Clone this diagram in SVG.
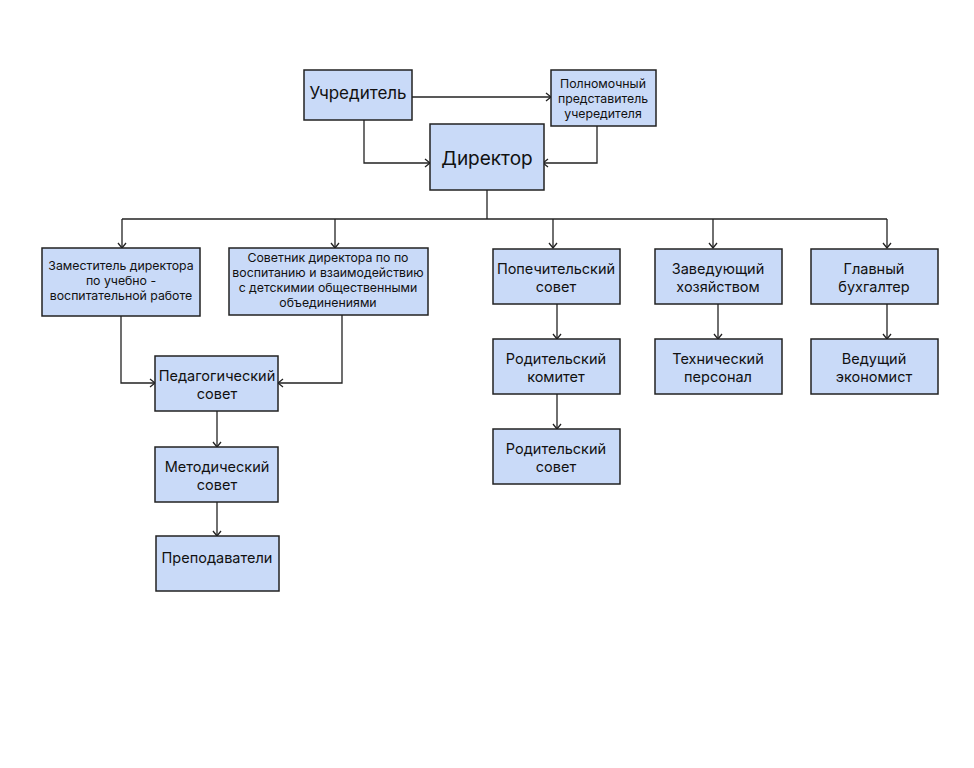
<svg xmlns="http://www.w3.org/2000/svg" width="974" height="768" viewBox="0 0 974 768">
<defs>
<marker id="ah" markerWidth="10" markerHeight="10" refX="9" refY="5" orient="auto" markerUnits="userSpaceOnUse">
<path d="M4,1 L9,5 L4,9" fill="none" stroke="#222" stroke-width="1.3"/>
</marker>
<style>
.b{fill:#c9daf8;stroke:#222;stroke-width:1.5}
.t{font-family:Inter,"Noto Sans",sans-serif;fill:#111;text-anchor:middle}
.s12{font-size:12.3px}
.s14{font-size:14.5px}
.c{fill:none;stroke:#222;stroke-width:1.3}
</style>
</defs>
<rect width="974" height="768" fill="#fff"/>
<g id="connectors">
<path class="c" d="M412,97 H551" marker-end="url(#ah)"/>
<path class="c" d="M364,120 V163 H430" marker-end="url(#ah)"/>
<path class="c" d="M597,126 V163 H543" marker-end="url(#ah)"/>
<path class="c" d="M487,190 V219"/>
<path class="c" d="M122,219 H887"/>
<path class="c" d="M122,219 V248" marker-end="url(#ah)"/>
<path class="c" d="M335,219 V248" marker-end="url(#ah)"/>
<path class="c" d="M553,219 V248" marker-end="url(#ah)"/>
<path class="c" d="M713,219 V248" marker-end="url(#ah)"/>
<path class="c" d="M887,219 V248" marker-end="url(#ah)"/>
<path class="c" d="M121,316 V383 H155" marker-end="url(#ah)"/>
<path class="c" d="M342,315 V383 H278" marker-end="url(#ah)"/>
<path class="c" d="M217,411 V447" marker-end="url(#ah)"/>
<path class="c" d="M217,502 V536" marker-end="url(#ah)"/>
<path class="c" d="M557,304 V339" marker-end="url(#ah)"/>
<path class="c" d="M557,394 V429" marker-end="url(#ah)"/>
<path class="c" d="M718,304 V339" marker-end="url(#ah)"/>
<path class="c" d="M887,304 V339" marker-end="url(#ah)"/>
</g>
<g id="uchreditel">
<rect class="b" x="304" y="70" width="108" height="50"/>
<text class="t" x="358" y="99" font-size="17">Учредитель</text>
</g>
<g id="polnomochny">
<rect class="b" x="551" y="70" width="105" height="56"/>
<text class="t s12" x="603" y="88">Полномочный</text>
<text class="t s12" x="603" y="103">представитель</text>
<text class="t s12" x="603" y="118">учередителя</text>
</g>
<g id="direktor">
<rect class="b" x="430" y="124" width="114" height="66"/>
<text class="t" x="487" y="165" font-size="19">Директор</text>
</g>
<g id="zamestitel">
<rect class="b" x="42" y="248" width="158" height="68"/>
<text class="t s12" x="121" y="270">Заместитель директора</text>
<text class="t s12" x="121" y="285">по учебно -</text>
<text class="t s12" x="121" y="300">воспитательной работе</text>
</g>
<g id="sovetnik">
<rect class="b" x="229" y="248" width="199" height="67"/>
<text class="t s12" x="328" y="262">Советник директора по по</text>
<text class="t s12" x="328" y="277">воспитанию и взаимодействию</text>
<text class="t s12" x="328" y="292">с детскимии общественными</text>
<text class="t s12" x="328" y="307">объединениями</text>
</g>
<g id="popechitelsky">
<rect class="b" x="493" y="249" width="127" height="55"/>
<text class="t s14" x="556" y="274">Попечительский</text>
<text class="t s14" x="556" y="292">совет</text>
</g>
<g id="zaveduyushchy">
<rect class="b" x="655" y="249" width="127" height="55"/>
<text class="t s14" x="718" y="274">Заведующий</text>
<text class="t s14" x="718" y="292">хозяйством</text>
</g>
<g id="glavny">
<rect class="b" x="811" y="249" width="127" height="55"/>
<text class="t s14" x="874" y="274">Главный</text>
<text class="t s14" x="874" y="292">бухгалтер</text>
</g>
<g id="roditelsky_komitet">
<rect class="b" x="493" y="339" width="127" height="55"/>
<text class="t s14" x="556" y="364">Родительский</text>
<text class="t s14" x="556" y="382">комитет</text>
</g>
<g id="tekhnichesky">
<rect class="b" x="655" y="339" width="127" height="55"/>
<text class="t s14" x="718" y="364">Технический</text>
<text class="t s14" x="718" y="382">персонал</text>
</g>
<g id="vedushchy">
<rect class="b" x="811" y="339" width="127" height="55"/>
<text class="t s14" x="874" y="364">Ведущий</text>
<text class="t s14" x="874" y="382">экономист</text>
</g>
<g id="roditelsky_sovet">
<rect class="b" x="493" y="429" width="127" height="55"/>
<text class="t s14" x="556" y="454">Родительский</text>
<text class="t s14" x="556" y="472">совет</text>
</g>
<g id="pedagogichesky">
<rect class="b" x="155" y="356" width="123" height="55"/>
<text class="t s14" x="217" y="381">Педагогический</text>
<text class="t s14" x="217" y="399">совет</text>
</g>
<g id="metodichesky">
<rect class="b" x="155" y="447" width="123" height="55"/>
<text class="t s14" x="217" y="472">Методический</text>
<text class="t s14" x="217" y="490">совет</text>
</g>
<g id="prepodavateli">
<rect class="b" x="156" y="536" width="123" height="55"/>
<text class="t s14" x="217" y="563">Преподаватели</text>
</g>
</svg>
